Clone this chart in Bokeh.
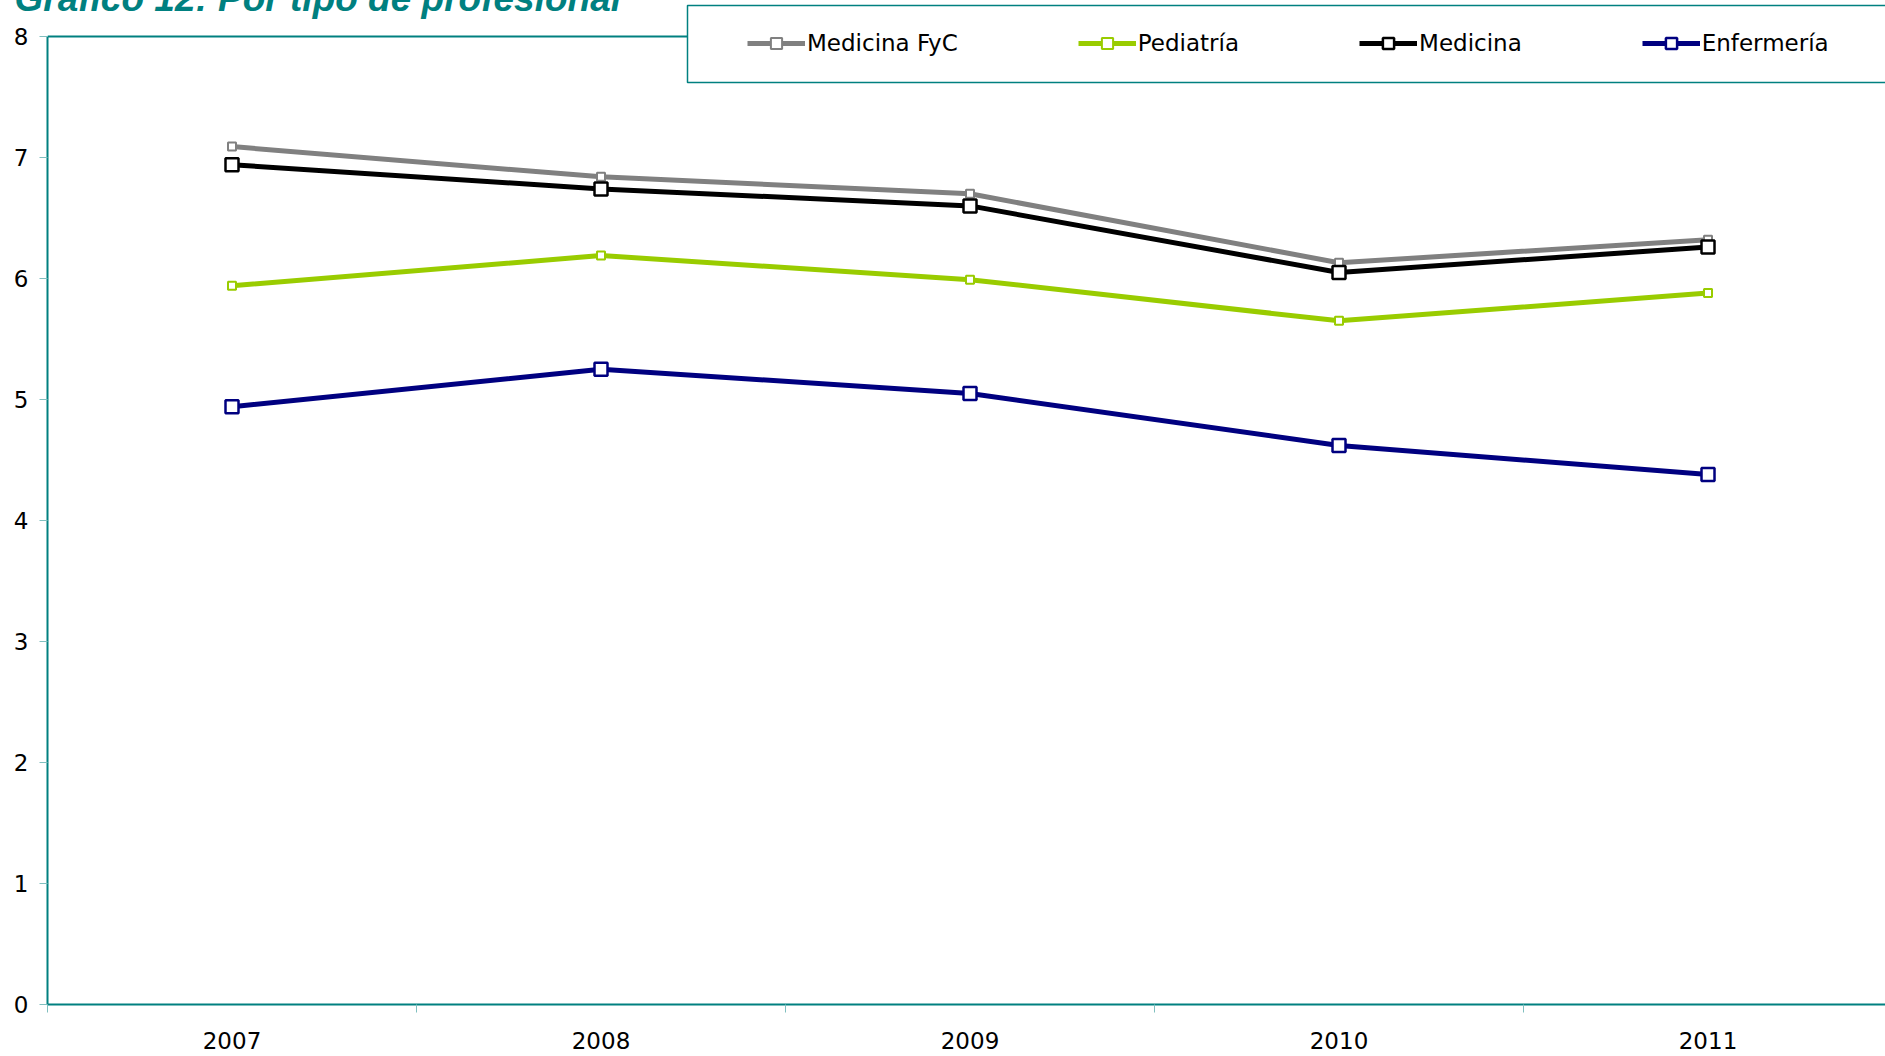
from bokeh.plotting import figure
from bokeh.models import (Range1d, FixedTicker, LinearAxis, Legend, LegendItem,
                          BoxAnnotation, Grid)
from bokeh.embed import file_html
from bokeh.resources import INLINE

# ---- data ----
years = ["2007", "2008", "2009", "2010", "2011"]
medicina_fyc = [7.09, 6.84, 6.70, 6.13, 6.32]
pediatria = [5.94, 6.19, 5.99, 5.65, 5.88]
medicina = [6.94, 6.74, 6.60, 6.05, 6.26]
enfermeria = [4.94, 5.25, 5.05, 4.62, 4.38]
y_ticks = [0, 1, 2, 3, 4, 5, 6, 7, 8]
title_text = "Gráfico 12: Por tipo de profesional"

TEAL = "#008080"
TICK = "#80bfbf"
GRID = "#3f9f9f"
FONT = "DejaVu Sans"

xs = list(range(len(years)))
y_max = y_ticks[-1]
# frame reaches the top of the canvas so the legend may overlap the plot border
y_top = y_max + 36 / 121.0

p = figure(width=1885, height=1056, output_backend="svg", toolbar_location=None,
           title=title_text,
           x_range=Range1d(-0.5, 4.481), y_range=Range1d(0, y_top),
           min_border_left=47, min_border_right=0, min_border_top=0, min_border_bottom=52,
           x_axis_type=None, y_axis_type=None)
p.outline_line_color = None
p.background_fill_color = "white"
p.border_fill_color = "white"

# title (cut at the top, as in the original)
p.title.align = "left"
p.title.offset = -33
p.title.standoff = -46
p.title.vertical_align = "top"
p.title.text_font = "Liberation Sans"
p.title.text_font_style = "bold italic"
p.title.text_font_size = "37px"
p.title.text_color = TEAL

# x axis
xaxis = LinearAxis(ticker=FixedTicker(ticks=xs, minor_ticks=[i - 0.5 for i in range(len(years) + 1)]))
xaxis.major_label_overrides = {i: y for i, y in enumerate(years)}
xaxis.major_tick_out = 0
xaxis.major_tick_in = 0
xaxis.minor_tick_out = 8
xaxis.minor_tick_in = 0
xaxis.minor_tick_line_color = TICK
xaxis.minor_tick_line_width = 1
xaxis.axis_line_color = TEAL
xaxis.axis_line_width = 2
xaxis.major_label_text_font = FONT
xaxis.major_label_text_font_size = "23px"
xaxis.major_label_text_color = "black"
xaxis.major_label_standoff = 19
p.add_layout(xaxis, "below")

# y axis
yaxis = LinearAxis(ticker=FixedTicker(ticks=y_ticks, minor_ticks=[]), bounds=(0, y_max))
yaxis.major_tick_out = 8
yaxis.major_tick_in = 0
yaxis.major_tick_line_color = TICK
yaxis.major_tick_line_width = 1
yaxis.minor_tick_out = 0
yaxis.minor_tick_in = 0
yaxis.axis_line_color = TEAL
yaxis.axis_line_width = 2
yaxis.major_label_text_font = FONT
yaxis.major_label_text_font_size = "23px"
yaxis.major_label_text_color = "black"
yaxis.major_label_standoff = 11
p.add_layout(yaxis, "left")

# grid
p.ygrid.ticker = FixedTicker(ticks=y_ticks[1:-1])
p.ygrid.grid_line_color = GRID
p.ygrid.grid_line_dash = "7 5"
p.ygrid.grid_line_width = 1
p.xgrid.visible = False

# solid top border of the plot area at the axis maximum
top_grid = Grid(dimension=1, ticker=FixedTicker(ticks=[y_max]),
                grid_line_color=TEAL, grid_line_width=2)
p.add_layout(top_grid)

series = [
    ("Medicina FyC", medicina_fyc, "#808080", 8, 2),
    ("Pediatría", pediatria, "#99cc00", 8, 2),
    ("Medicina", medicina, "#000000", 13, 2.5),
    ("Enfermería", enfermeria, "#000080", 13, 2.5),
]

items = []
for name, vals, color, msize, mlw in series:
    l = p.line(xs, vals, line_color=color, line_width=5)
    s = p.scatter(xs, vals, marker="square", size=msize, fill_color="white",
                  line_color=color, line_width=mlw)
    items.append(LegendItem(label=name, renderers=[l, s]))

# legend frame
box = BoxAnnotation(left=640, right=3000, top=999, bottom=922,
                    left_units="screen", right_units="screen",
                    top_units="screen", bottom_units="screen",
                    fill_color="white", fill_alpha=1.0,
                    line_color=TEAL, line_alpha=1.0, line_width=1.5)
p.add_layout(box)

legend = Legend(items=items, orientation="horizontal", location=(700, 947),
                padding=0, margin=0, spacing=120, glyph_width=58, glyph_height=28,
                label_height=28, label_standoff=2,
                label_text_font=FONT, label_text_font_size="23px",
                label_text_color="black",
                border_line_alpha=0, background_fill_alpha=0)
p.add_layout(legend, "center")

open("out.html", "w").write(file_html(p, INLINE))
